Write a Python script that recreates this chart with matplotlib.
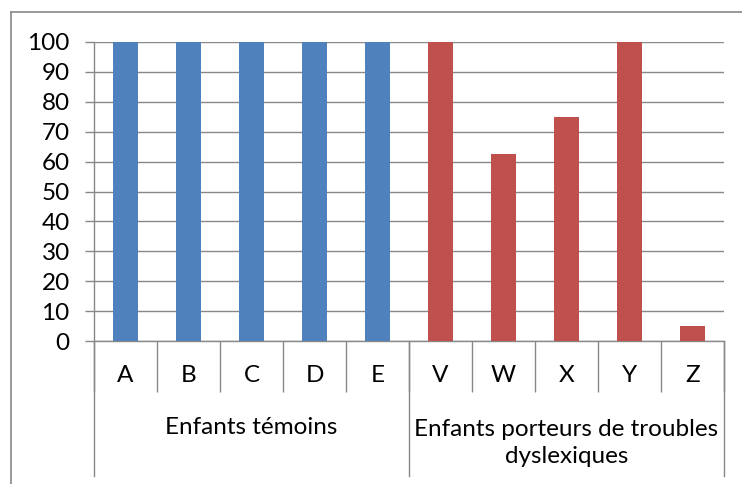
import matplotlib.pyplot as plt
from matplotlib.lines import Line2D

plt.rcParams['font.family'] = ['Lato', 'DejaVu Sans']

categories = ['A', 'B', 'C', 'D', 'E', 'V', 'W', 'X', 'Y', 'Z']
values = [100, 100, 100, 100, 100, 100, 62.5, 75, 100, 5]
groups = ['Enfants témoins', 'Enfants porteurs de troubles\ndyslexiques']
group_sizes = [5, 5]
group_colors = ['#4F81BD', '#C0504D']
yticks = list(range(0, 101, 10))

W, H = 742, 484
fig = plt.figure(figsize=(W / 100, H / 100), dpi=100)
ax_left, ax_right, ax_top, ax_bottom = 94, 724, 42, 341
ax = fig.add_axes([ax_left / W, 1 - ax_bottom / H,
                   (ax_right - ax_left) / W, (ax_bottom - ax_top) / H])
ax_h = ax_bottom - ax_top

grid_col = '#888888'
fs = 17.5

colors = []
for c, n in zip(group_colors, group_sizes):
    colors += [c] * n
x = list(range(len(categories)))
ax.bar(x, values, width=0.4, color=colors, zorder=3)

ax.set_xlim(-0.5, len(categories) - 0.5)
ax.set_ylim(0, 100)
ax.set_yticks(yticks)
ax.yaxis.grid(True, color=grid_col, linewidth=1.0)
ax.set_axisbelow(True)
for s in ['top', 'right']:
    ax.spines[s].set_visible(False)
for s in ['left', 'bottom']:
    ax.spines[s].set_color(grid_col)
    ax.spines[s].set_linewidth(1.0)
ax.tick_params(axis='y', length=6.5, width=1.0, color=grid_col,
               labelsize=fs, pad=11)

# category boundaries as x ticks
ax.set_xticks([i - 0.5 for i in range(len(categories) + 1)])
ax.set_xticklabels([])
ax.tick_params(axis='x', length=51 * 0.72, width=1.0, color=grid_col)

tr = ax.get_xaxis_transform()
for i, c in enumerate(categories):
    ax.text(i, -35 / ax_h, c, transform=tr, ha='center', va='center',
            fontsize=fs)

# group separators and labels
start = 0
bounds = [-0.5]
for g, n in zip(groups, group_sizes):
    mid = start + (n - 1) / 2
    nlines = g.count('\n') + 1
    ax.text(mid, -(87 + 15 * (nlines - 1)) / ax_h, g, transform=tr,
            ha='center', va='center', fontsize=fs, linespacing=1.35)
    start += n
    bounds.append(start - 0.5)
for b in bounds:
    ax.plot([b, b], [0, -135 / ax_h], transform=tr, color=grid_col,
            linewidth=1.0, clip_on=False)

# outer chart border (cropped)
fig.add_artist(Line2D([11 / W, 1], [1 - 12 / H, 1 - 12 / H],
                      color=grid_col, linewidth=1.2))
fig.add_artist(Line2D([11 / W, 11 / W], [1 - 12 / H, 0],
                      color=grid_col, linewidth=1.2))

fig.savefig('out.png', dpi=100)
